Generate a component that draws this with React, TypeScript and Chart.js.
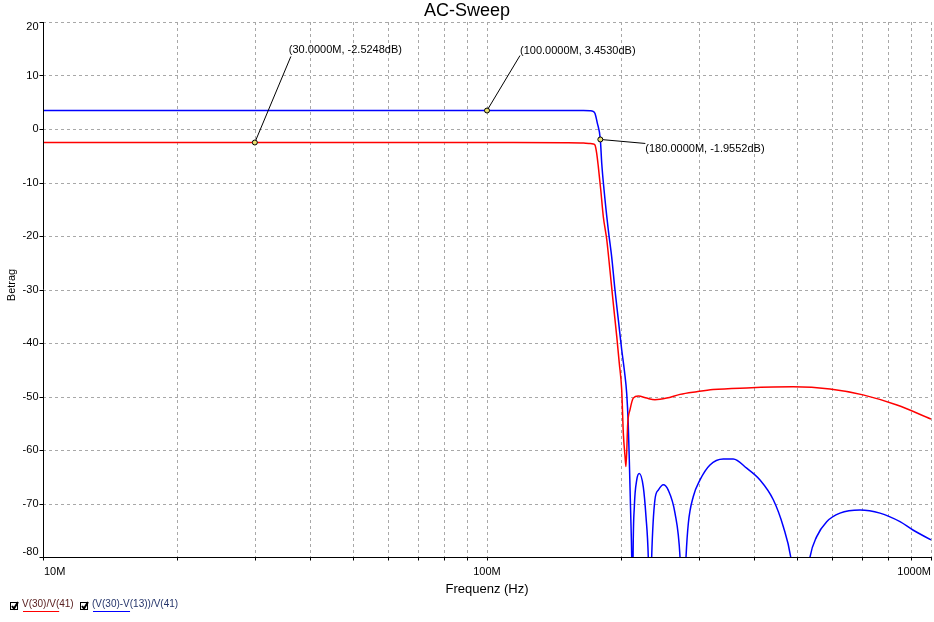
import { useEffect, useRef } from 'react';
import { Chart, registerables } from 'chart.js';

Chart.register(...registerables);

const FONT = "'Liberation Sans', Arial, sans-serif";

const chartTitle = 'AC-Sweep';
const xTitle = 'Frequenz (Hz)';
const yTitle = 'Betrag';

// axis ranges (frequency in MHz, magnitude in dB)
const xMinMHz = 10;
const xMaxMHz = 1000;
const yMin = -80;
const yMax = 20;
const yTickValues = [-80, -70, -60, -50, -40, -30, -20, -10, 0, 10, 20];
const xGridMHz = [10, 20, 30, 40, 50, 60, 70, 80, 90, 100, 200, 300, 400, 500, 600, 700, 800, 900, 1000];
const xLabelMHz = [10, 100, 1000];
const xLabelTexts = ['10M', '100M', '1000M'];

const seriesNames = ['V(30)/V(41)', '(V(30)-V(13))/V(41)'];
const seriesColors = ['#ff0000', '#0000ff'];

// V(30)/V(41)
const redFreqMHz = [10, 30, 100, 150, 165, 170, 173.5, 175.1, 176.6, 178.1,
  180.4, 182.8, 186.1, 189.2, 192.5, 196.0, 198.6, 201.1, 202.8, 204.6,
  205.6, 207.5, 209.9, 213.5, 219.2, 228.9, 238.9, 254.0, 272.1, 296.7,
  322.8, 384.5, 488.9, 592.3, 702.9, 838.2, 1000];
const redDb = [-2.52, -2.5248, -2.52, -2.55, -2.6, -2.7, -2.8, -3.0, -4.5, -7.0,
  -11.4, -16.4, -20.7, -26.4, -32.6, -38.8, -43.8, -48.8, -56.9, -61.2,
  -63.1, -55, -52.5, -50.3, -49.9, -50.3, -50.6, -50.3, -49.6, -49.1,
  -48.7, -48.4, -48.2, -48.6, -49.7, -51.6, -54.2];

// (V(30)-V(13))/V(41)
const blueFreqMHz = [10, 100, 150, 165, 170.6, 173.3, 175.1, 177.2, 180, 181.3,
  183.5, 187.6, 190.9, 194.2, 198.0, 201.1, 204.0, 206.4, 208.0, 209.2, 210.7, 211.8,
  212.8, 213.3, 214.7, 217.4, 220.3, 224.9, 228.1, 230.8, 232.8, 234.9,
  238.9, 243.1, 249.5, 256.0, 265.1, 272.1, 276.3, 280.7, 284.1, 291.5,
  301.8, 317.8, 340.6, 358.6, 384.5, 412.0, 441.4, 464.8, 483.1, 507,
  534.0, 552.8, 582.2, 623.7, 692.0, 767.6, 851.5, 912.5, 1000];
const blueDb = [3.45, 3.453, 3.45, 3.45, 3.4, 3.3, 2.9, 1.1, -1.9552, -6.4,
  -11.4, -18.9, -23.9, -30.1, -36.3, -41.3, -45.3, -49.5, -55, -62, -72, -80,
  -95, -80, -70.6, -65.6, -64.4, -66.9, -72.5, -80, -95, -80,
  -69.3, -67.5, -66.5, -67.5, -71.8, -80, -95, -80, -73.7, -68.7,
  -65.6, -62.8, -61.7, -61.7, -63.4, -65.6, -69.3, -74.3, -80, -95,
  -80, -76.2, -73.4, -71.8, -71.2, -71.8, -73.4, -75, -76.8];

// cursor markers
const markerFreqMHz = [30, 100, 180];
const markerDb = [-2.5248, 3.4530, -1.9552];
// label offsets from marker (style)
const markerLabelOffsets = [
  { lx: 36, ly: -86, tx: 34, ty: -93 },
  { lx: 33, ly: -55, tx: 33, ty: -60 },
  { lx: 45, ly: 4, tx: 45, ty: 10 },
];

const toPoints = (f: number[], v: number[]) => f.map((m, i) => ({ x: m * 1e6, y: v[i] }));

const overlay = {
  id: 'overlay',
  beforeDatasetsDraw(chart: any) {
    const { ctx, chartArea: a, scales } = chart;
    const x = scales.x;
    const y = scales.y;
    ctx.save();
    ctx.strokeStyle = '#a8a8a8';
    ctx.lineWidth = 1;
    ctx.setLineDash([3, 3]);
    ctx.beginPath();
    for (const m of xGridMHz) {
      const px = Math.round(x.getPixelForValue(m * 1e6)) + 0.5;
      ctx.moveTo(px, a.top);
      ctx.lineTo(px, a.bottom);
    }
    for (const v of yTickValues) {
      const py = Math.round(y.getPixelForValue(v)) + 0.5;
      ctx.moveTo(a.left, py);
      ctx.lineTo(a.right, py);
    }
    ctx.stroke();
    ctx.restore();
  },
  afterDatasetsDraw(chart: any) {
    const { ctx, chartArea: a, scales } = chart;
    const x = scales.x;
    const y = scales.y;
    const L = Math.round(a.left) + 0.5;
    const B = Math.round(a.bottom) + 0.5;
    ctx.save();
    // axes
    ctx.strokeStyle = '#000';
    ctx.lineWidth = 1;
    ctx.setLineDash([]);
    ctx.beginPath();
    ctx.moveTo(L, a.top);
    ctx.lineTo(L, B);
    ctx.lineTo(a.right + 1, B);
    for (const v of yTickValues) {
      const py = Math.round(y.getPixelForValue(v)) + 0.5;
      ctx.moveTo(L - 4, py);
      ctx.lineTo(L, py);
    }
    for (const m of xGridMHz) {
      const px = Math.round(x.getPixelForValue(m * 1e6)) + 0.5;
      ctx.moveTo(px, B);
      ctx.lineTo(px, B + 3);
    }
    ctx.stroke();

    // tick labels
    ctx.fillStyle = '#000';
    ctx.font = `11px ${FONT}`;
    ctx.textBaseline = 'middle';
    ctx.textAlign = 'right';
    yTickValues.forEach((v, i) => {
      const shift = i === 0 ? -5 : i === yTickValues.length - 1 ? 5 : 0;
      ctx.fillText(String(v), L - 5, y.getPixelForValue(v) + shift);
    });
    xLabelMHz.forEach((m, i) => {
      const px = x.getPixelForValue(m * 1e6);
      ctx.textAlign = i === 0 ? 'left' : i === xLabelMHz.length - 1 ? 'right' : 'center';
      ctx.fillText(xLabelTexts[i], px + (i === 0 ? 1 : 0), B + 14);
    });

    // axis titles
    ctx.font = `13px ${FONT}`;
    ctx.textAlign = 'center';
    ctx.fillText(xTitle, (a.left + a.right) / 2, B + 32);
    ctx.save();
    ctx.translate(12, 285);
    ctx.rotate(-Math.PI / 2);
    ctx.font = `11px ${FONT}`;
    ctx.fillText(yTitle, 0, 0);
    ctx.restore();

    // title
    ctx.font = `18px ${FONT}`;
    ctx.textAlign = 'center';
    ctx.fillText(chartTitle, chart.width / 2, 11);

    // markers
    ctx.font = `11px ${FONT}`;
    ctx.textAlign = 'left';
    markerFreqMHz.forEach((m, i) => {
      const px = x.getPixelForValue(m * 1e6);
      const py = y.getPixelForValue(markerDb[i]);
      const o = markerLabelOffsets[i];
      ctx.strokeStyle = '#000';
      ctx.lineWidth = 1;
      ctx.beginPath();
      ctx.moveTo(px, py);
      ctx.lineTo(px + o.lx, py + o.ly);
      ctx.stroke();
      ctx.beginPath();
      ctx.arc(px, py, 2.5, 0, Math.PI * 2);
      ctx.fillStyle = '#e8e070';
      ctx.fill();
      ctx.stroke();
      ctx.fillStyle = '#000';
      const label = `(${m.toFixed(4)}M, ${markerDb[i].toFixed(4)}dB)`;
      ctx.fillText(label, px + o.tx, py + o.ty);
    });

    // legend
    const legendX = [10, 80];
    const textColors = ['#5a2020', '#24346a'];
    seriesNames.forEach((name, i) => {
      const bx = legendX[i] + 0.5;
      const by = 602.5;
      ctx.strokeStyle = '#000';
      ctx.lineWidth = 1;
      ctx.strokeRect(bx, by, 7, 7);
      ctx.lineWidth = 2;
      ctx.beginPath();
      ctx.moveTo(bx + 1.5, by + 3.5);
      ctx.lineTo(bx + 3.5, by + 6);
      ctx.lineTo(bx + 7.5, by - 0.5);
      ctx.stroke();
      ctx.font = `10px ${FONT}`;
      ctx.fillStyle = textColors[i];
      ctx.textAlign = 'left';
      ctx.fillText(name, bx + 11.5, 604.5);
      const w = ctx.measureText(name).width;
      ctx.strokeStyle = seriesColors[i];
      ctx.lineWidth = 1;
      ctx.beginPath();
      ctx.moveTo(bx + 12.5, 611.5);
      ctx.lineTo(bx + 12.5 + (i === 0 ? w * 0.7 : w * 0.43), 611.5);
      ctx.stroke();
    });
    ctx.restore();
  },
};

export default function App() {
  const ref = useRef<HTMLCanvasElement>(null);
  useEffect(() => {
    if (!ref.current) return;
    const chart = new Chart(ref.current, {
      type: 'line',
      data: {
        datasets: [
          {
            label: seriesNames[0],
            data: toPoints(redFreqMHz, redDb),
            borderColor: seriesColors[0],
            borderWidth: 1.5,
            pointRadius: 0,
            cubicInterpolationMode: 'monotone',
            fill: false,
          },
          {
            label: seriesNames[1],
            data: toPoints(blueFreqMHz, blueDb),
            borderColor: seriesColors[1],
            borderWidth: 1.5,
            pointRadius: 0,
            cubicInterpolationMode: 'monotone',
            fill: false,
          },
        ],
      },
      options: {
        responsive: false,
        animation: false,
        events: [],
        layout: { padding: { left: 43, top: 22, right: 3, bottom: 65 } },
        plugins: { legend: { display: false }, tooltip: { enabled: false }, title: { display: false } },
        scales: {
          x: { type: 'logarithmic', min: xMinMHz * 1e6, max: xMaxMHz * 1e6, display: false },
          y: { type: 'linear', min: yMin, max: yMax, display: false },
        },
      },
      plugins: [overlay],
    } as any);
    return () => chart.destroy();
  }, []);
  return (
    <div style={{ position: 'fixed', left: 0, top: 0, width: 934, height: 622, background: '#fff' }}>
      <canvas ref={ref} width={934} height={622} style={{ display: 'block' }} />
    </div>
  );
}
